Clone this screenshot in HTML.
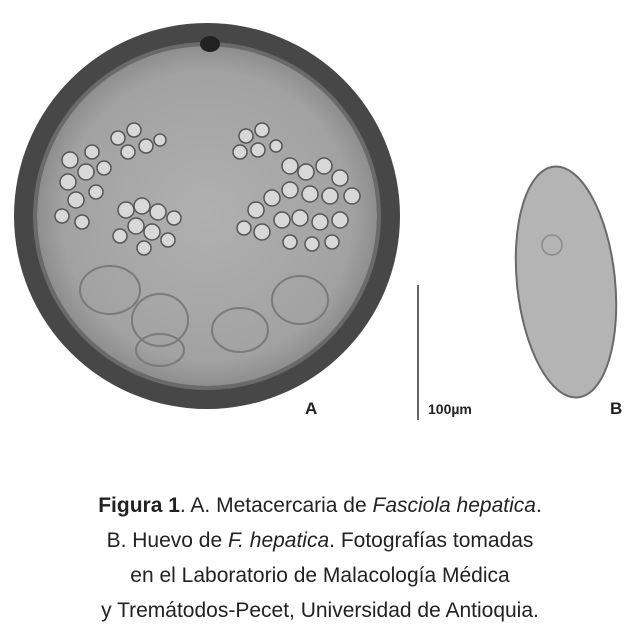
<!DOCTYPE html>
<html><head><meta charset="utf-8"><style>
body{margin:0;background:#fff;width:640px;height:640px;overflow:hidden}
.cap{position:absolute;left:0;width:640px;text-align:center;font-family:"Liberation Sans",sans-serif;font-size:21px;color:#222;line-height:35px;top:488px}
</style></head><body>
<svg width="640" height="640" style="position:absolute;left:0;top:0">
<defs>
<radialGradient id="rg" cx="50%" cy="50%" r="50%">
<stop offset="0" stop-color="#b0b0b0"/><stop offset="0.85" stop-color="#a2a2a2"/><stop offset="1" stop-color="#8e8e8e"/>
</radialGradient>
</defs>
<g>
<circle cx="207" cy="216" r="193" fill="#474747"/>
<circle cx="207" cy="216" r="170" fill="url(#rg)"/>
<circle cx="207" cy="216" r="172" fill="none" stroke="#6a6a6a" stroke-width="4"/>
<ellipse cx="210" cy="44" rx="10" ry="8" fill="#222"/>
<g fill="#d8d8d8" stroke="#555" stroke-width="1.5">
<circle cx="70" cy="160" r="8"/><circle cx="86" cy="172" r="8"/><circle cx="68" cy="182" r="8"/><circle cx="92" cy="152" r="7"/><circle cx="76" cy="200" r="8"/><circle cx="62" cy="216" r="7"/><circle cx="96" cy="192" r="7"/><circle cx="82" cy="222" r="7"/><circle cx="104" cy="168" r="7"/>
<circle cx="118" cy="138" r="7"/><circle cx="134" cy="130" r="7"/><circle cx="128" cy="152" r="7"/><circle cx="146" cy="146" r="7"/><circle cx="160" cy="140" r="6"/>
<circle cx="126" cy="210" r="8"/><circle cx="142" cy="206" r="8"/><circle cx="158" cy="212" r="8"/><circle cx="174" cy="218" r="7"/><circle cx="136" cy="226" r="8"/><circle cx="152" cy="232" r="8"/><circle cx="168" cy="240" r="7"/><circle cx="120" cy="236" r="7"/><circle cx="144" cy="248" r="7"/>
<circle cx="246" cy="136" r="7"/><circle cx="262" cy="130" r="7"/><circle cx="240" cy="152" r="7"/><circle cx="258" cy="150" r="7"/><circle cx="276" cy="146" r="6"/>
<circle cx="290" cy="166" r="8"/><circle cx="306" cy="172" r="8"/><circle cx="324" cy="166" r="8"/><circle cx="340" cy="178" r="8"/><circle cx="352" cy="196" r="8"/><circle cx="330" cy="196" r="8"/><circle cx="310" cy="194" r="8"/><circle cx="290" cy="190" r="8"/><circle cx="272" cy="198" r="8"/><circle cx="256" cy="210" r="8"/><circle cx="244" cy="228" r="7"/><circle cx="262" cy="232" r="8"/><circle cx="282" cy="220" r="8"/><circle cx="300" cy="218" r="8"/><circle cx="320" cy="222" r="8"/><circle cx="340" cy="220" r="8"/><circle cx="290" cy="242" r="7"/><circle cx="312" cy="244" r="7"/><circle cx="332" cy="242" r="7"/>
</g>
<g fill="none" stroke="#7a7a7a" stroke-width="2">
<ellipse cx="110" cy="290" rx="30" ry="24"/><ellipse cx="160" cy="320" rx="28" ry="26"/><ellipse cx="240" cy="330" rx="28" ry="22"/><ellipse cx="300" cy="300" rx="28" ry="24"/><ellipse cx="160" cy="350" rx="24" ry="16"/>
</g>
</g>
<g>
<ellipse cx="566" cy="282" rx="49" ry="116" transform="rotate(-6 566 282)" fill="#b4b4b4" stroke="#6a6a6a" stroke-width="2"/>
<circle cx="552" cy="245" r="10" fill="none" stroke="#8a8a8a" stroke-width="1.5"/>
</g>
<line x1="418" y1="285" x2="418" y2="420" stroke="#333" stroke-width="1.5"/>
<g font-family="Liberation Sans, sans-serif" font-weight="bold" fill="#222">
<text x="305" y="414" font-size="17">A</text>
<text x="428" y="414" font-size="14">100µm</text>
<text x="610" y="414" font-size="17">B</text>
</g>
</svg>
<div class="cap">
<b>Figura 1</b>. A. Metacercaria de <i>Fasciola hepatica</i>.<br>
B. Huevo de <i>F. hepatica</i>. Fotografías tomadas<br>
en el Laboratorio de Malacología Médica<br>
y Tremátodos-Pecet, Universidad de Antioquia.
</div>
</body></html>
